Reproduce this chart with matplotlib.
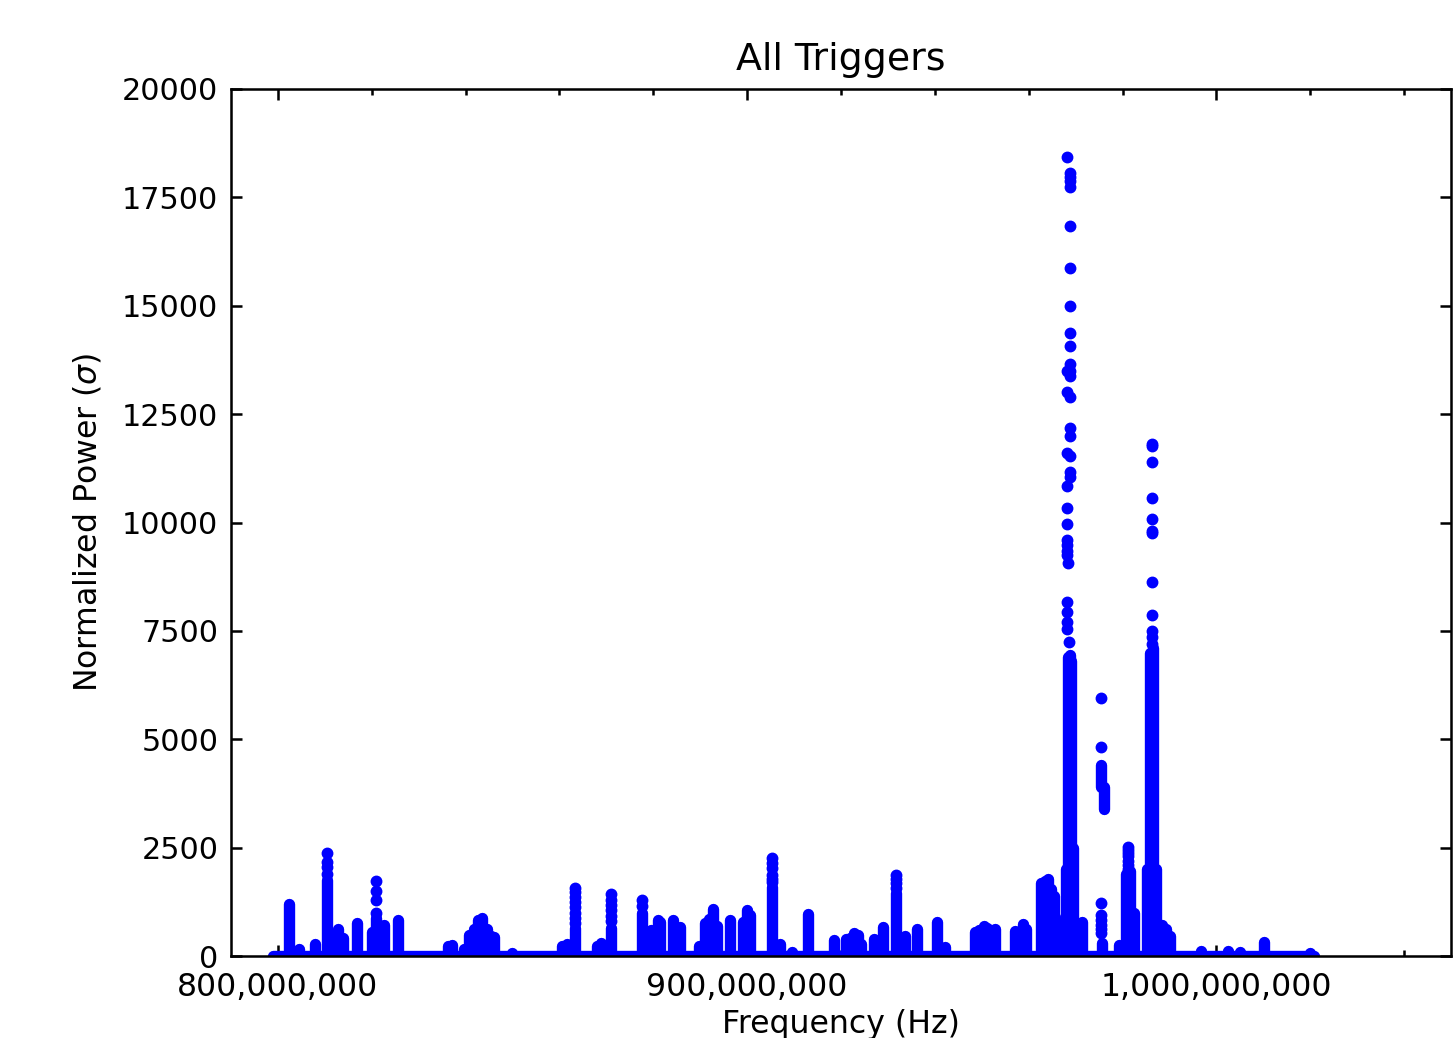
import numpy as np
import matplotlib
matplotlib.use("Agg")
import matplotlib.pyplot as plt
from matplotlib.ticker import MultipleLocator, FuncFormatter

# dense stacks of triggers from 0 up: frequency (MHz) and highest power of the stack
seg_freq = [802.3, 804.4, 807.8, 810.5, 812.9, 813.8, 816.8, 820.1, 820.8, 822.7, 825.5,
            836.3, 837.1, 839.6, 840.8, 841.7, 842.6, 843.5, 844.5, 845.4, 846.0, 849.9,
            860.6, 861.5, 863.4, 867.9, 868.9, 870.9, 877.5, 879.6, 880.9, 881.5, 884.3, 885.6,
            889.8, 891.1, 891.9, 892.8, 893.5, 896.4, 899.2, 900.0, 900.7, 905.3, 907.0, 909.6,
            912.9, 918.6, 921.1, 922.0, 922.8, 923.7, 924.3, 927.1, 928.2, 929.0, 931.8, 933.7,
            936.2, 940.5, 942.2, 948.6, 949.5, 950.5, 951.2, 952.0, 952.9, 957.1, 958.0, 958.8,
            959.5, 962.6, 963.5, 964.1, 964.8, 965.3, 965.6, 967.9, 968.3, 968.7, 969.0, 969.4,
            971.4, 975.7, 979.3, 980.8, 981.6, 982.5, 985.2, 985.9, 986.4, 987.2,
            988.4, 989.3, 990.2, 996.7, 1002.5, 1005.1, 1010.2, 1020.0]
seg_high = [1200, 170, 280, 1750, 620, 420, 750, 560, 880, 720, 820,
            240, 250, 150, 480, 620, 820, 880, 620, 470, 440, 80,
            240, 270, 640, 240, 290, 640, 1000, 600, 830, 780, 820, 680,
            220, 750, 850, 1080, 700, 820, 780, 1050, 950, 1600, 280, 100,
            960, 360, 400, 420, 540, 480, 280, 400, 330, 660, 1450, 470,
            620, 780, 200, 550, 600, 700, 650, 600, 620, 580, 520, 730,
            620, 1680, 1730, 1780, 1550, 1380, 900, 2000, 6900, 6950, 6800, 2500,
            780, 300, 260, 1900, 1950, 1000, 2000, 7000, 7100, 2000,
            720, 620, 470, 120, 110, 100, 330, 80]

# stacks that float above zero (the ~975.5 MHz line)
float_freq = [975.4, 976.0]
float_low = [3900, 3400]
float_high = [4400, 3900]

# continuous run of near-zero triggers (MHz)
base_start = 798.9
base_end = 1020.9

# isolated triggers above the dense stacks
dot_freq = ([810.5] * 4 + [820.8] * 4 + [863.4] * 8 + [870.9] * 6 + [877.5] * 2
            + [905.3] * 6 + [931.8] * 4 + [975.5] * 8 + [981.2] * 7
            + [968.27, 968.78, 968.78, 968.78, 968.78, 968.78, 968.78, 968.78, 968.78, 968.78,
               968.78, 968.27, 968.78, 968.78, 968.27, 968.78, 968.78, 968.78, 968.27, 968.78,
               968.78, 968.78, 968.27, 968.27, 968.27, 968.27, 968.27, 968.27, 968.27, 968.4,
               968.27, 968.27, 968.27, 968.27, 968.6]
            + [986.2] * 12)
dot_power = ([2380, 2160, 2050, 1900]
             + [1720, 1500, 1290, 1000]
             + [1580, 1480, 1360, 1250, 1140, 1000, 870, 760]
             + [1440, 1300, 1180, 1060, 930, 800]
             + [1290, 1150]
             + [2260, 2140, 2030, 1880, 1780, 1700]
             + [1870, 1780, 1680, 1570]
             + [5950, 4830, 1230, 940, 840, 720, 620, 530]
             + [2520, 2450, 2380, 2300, 2200, 2100, 2000]
             + [18420, 18055, 17980, 17885, 17735, 16840, 15880, 14995, 14360, 14075,
                13650, 13505, 13505, 13380, 13005, 12905, 12190, 11995, 11610, 11535,
                11175, 11060, 10845, 10345, 9965, 9600, 9480, 9350, 9250, 9060,
                8175, 7930, 7705, 7545, 7250]
             + [11820, 11760, 11400, 10570, 10080, 9800, 9750, 8620, 7870, 7500, 7350, 7200])

plt.rcParams['font.family'] = ['DejaVu Sans']
plt.rcParams['font.size'] = 10

dpi = 227
fig = plt.figure(figsize=(1454 / dpi, 1038 / dpi), dpi=dpi)
ax = fig.add_axes([231 / 1454, 82 / 1038, 1220 / 1454, 867 / 1038])

dot_pt = 3.6  # width of one '.' marker in points
ax.vlines(np.array(seg_freq) * 1e6, 0, seg_high, colors='b', linewidth=dot_pt,
          capstyle='round', zorder=2)
ax.vlines(np.array(float_freq) * 1e6, float_low, float_high, colors='b', linewidth=dot_pt,
          capstyle='round', zorder=2)
ax.hlines(0, base_start * 1e6, base_end * 1e6, colors='b', linewidth=dot_pt,
          capstyle='round', zorder=2)
ax.plot(np.array(dot_freq) * 1e6, dot_power, 'b.', ms=6.5, mew=0.5, zorder=2)

ax.set_xlim(790e6, 1050e6)
ax.set_ylim(0, 20000)
ax.xaxis.set_major_locator(MultipleLocator(100e6))
ax.xaxis.set_minor_locator(MultipleLocator(20e6))
ax.yaxis.set_major_locator(MultipleLocator(2500))
ax.xaxis.set_major_formatter(FuncFormatter(lambda v, p: f"{v:,.0f}"))
ax.tick_params(which='both', direction='in', top=True, right=True, width=0.8)
ax.tick_params(which='major', length=3.5)
ax.tick_params(axis='x', which='major', pad=5)
ax.tick_params(axis='y', which='major', pad=4, labelsize=9.6)
ax.tick_params(which='minor', length=2)

ax.set_title("All Triggers", fontsize=12)
ax.set_xlabel("Frequency (Hz)", labelpad=2)
ax.set_ylabel(r"Normalized Power ($\sigma$)", labelpad=6)

fig.savefig("out.png", dpi=dpi)
